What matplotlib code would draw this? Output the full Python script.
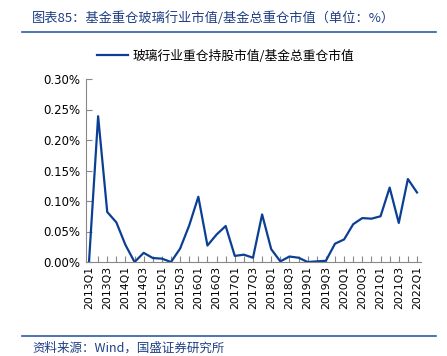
import matplotlib
matplotlib.use("Agg")
import matplotlib.pyplot as plt
import numpy as np

# quarters 2013Q1 .. 2022Q1
quarters = [f"{y}Q{q}" for y in range(2013, 2023) for q in range(1, 5)][:37]

# share of glass industry in fund heavy holdings (%)
ratio = [0.000, 0.239, 0.082, 0.065, 0.028, 0.000, 0.015, 0.0065, 0.0055, 0.000,
         0.022, 0.060, 0.107, 0.027, 0.045, 0.059, 0.010, 0.012, 0.007, 0.078,
         0.021, 0.001, 0.009, 0.007, 0.000, 0.001, 0.002, 0.030, 0.037, 0.062,
         0.072, 0.071, 0.075, 0.122, 0.064, 0.136, 0.114]

title = "图表85：基金重仓玻璃行业市值/基金总重仓市值（单位：%）"
legend_label = "玻璃行业重仓持股市值/基金总重仓市值"
source = "资料来源：Wind，国盛证券研究所"

CJK = ["Noto Sans CJK SC", "DejaVu Sans"]
LINE_COLOR = "#0B3F94"
TEXT_BLUE = "#1F3F84"

fig = plt.figure(figsize=(4.47, 3.56), dpi=100)
ax = fig.add_axes([86 / 447, 1 - 262 / 356, 335 / 447, 183 / 356])

x = np.arange(len(ratio))
ax.plot(x, ratio, color=LINE_COLOR, linewidth=1.6, label=legend_label)

ax.set_xlim(-0.33, len(ratio) - 1 + 0.44)
ax.set_ylim(0, 0.30)
ax.set_yticks(np.arange(0, 0.301, 0.05))
ax.set_yticklabels([f"{v:.2f}%" for v in np.arange(0, 0.301, 0.05)],
                   fontsize=8.5, family="DejaVu Sans")
ax.set_xticks(x)
ax.set_xticklabels([q if i % 2 == 0 else "" for i, q in enumerate(quarters)],
                   rotation=90, fontsize=7.8, family="DejaVu Sans")
ax.tick_params(axis="x", direction="in", length=4, color="#888888", pad=3)
ax.tick_params(axis="y", direction="in", length=4, color="#888888", pad=4)

for side in ["top", "right"]:
    ax.spines[side].set_visible(False)
for side in ["left", "bottom"]:
    ax.spines[side].set_color("#888888")
    ax.spines[side].set_linewidth(0.8)

leg = ax.legend(loc="center left", bbox_to_anchor=(97 / 447, 1 - 56 / 356),
                bbox_transform=fig.transFigure, frameon=False,
                prop={"family": CJK, "size": 9.2}, handlelength=2.4,
                handletextpad=0.4, borderpad=0, borderaxespad=0)

# header / footer
fig.text(32 / 447, 1 - 18 / 356, title, fontsize=9.5, color=TEXT_BLUE,
         family=CJK, va="center", ha="left")
fig.add_artist(plt.Line2D([22 / 447, 436 / 447], [1 - 32 / 356, 1 - 32 / 356],
                          color="#2D5BA6", linewidth=1.2))
fig.add_artist(plt.Line2D([22 / 447, 436 / 447], [1 - 336 / 356, 1 - 336 / 356],
                          color="#2D5BA6", linewidth=1.2))
fig.text(32 / 447, 1 - 348 / 356, source, fontsize=9, color=TEXT_BLUE,
         family=CJK, va="center", ha="left")

fig.savefig("out.png", dpi=100)
